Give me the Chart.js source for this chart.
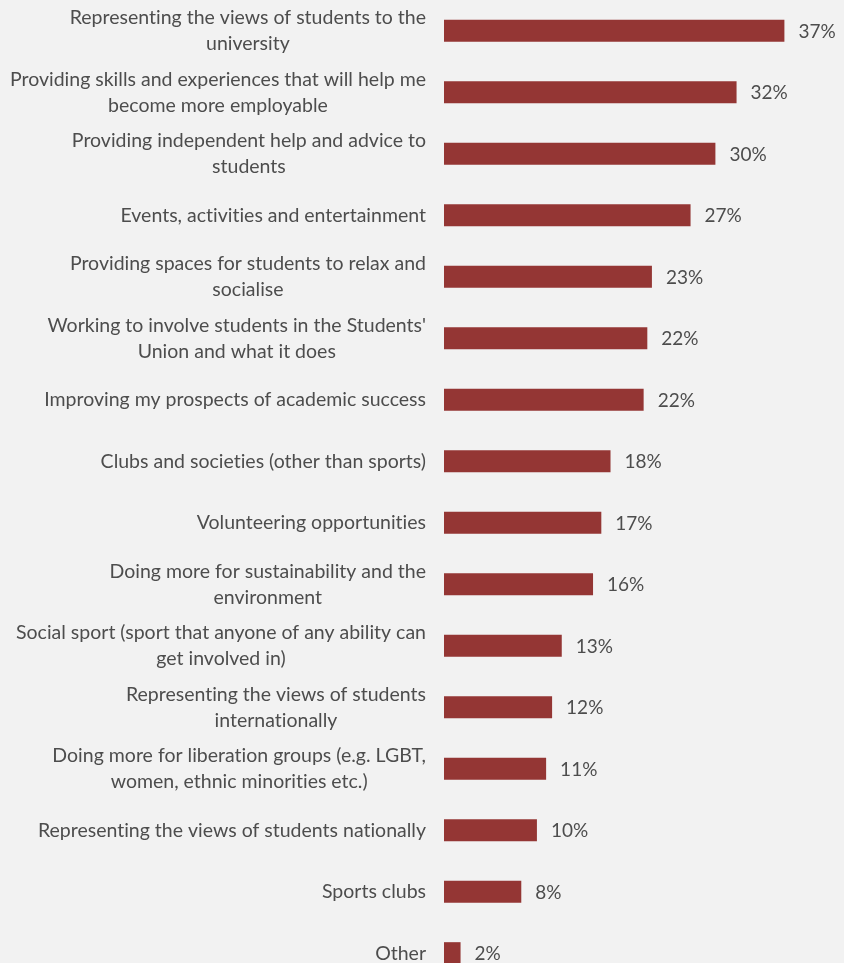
<!DOCTYPE html>
<html>
<head>
<meta charset="utf-8">
<script src="https://cdn.jsdelivr.net/npm/chart.js@4/dist/chart.umd.min.js"></script>
<style>
html,body{margin:0;padding:0;background:#f2f2f2;overflow:hidden;}
#wrap{position:relative;width:844px;height:984px;}
</style>
</head>
<body>
<div id="wrap"><canvas id="c" width="844" height="984"></canvas></div>
<script>
const categories = [
  ["Representing the views of students to the", "university"],
  ["Providing skills and experiences that will help me", "become more employable"],
  ["Providing independent help and advice to", "students"],
  ["Events, activities and entertainment"],
  ["Providing spaces for students to relax and", "socialise"],
  ["Working to involve students in the Students'", "Union and what it does"],
  ["Improving my prospects of academic success"],
  ["Clubs and societies (other than sports)"],
  ["Volunteering opportunities"],
  ["Doing more for sustainability and the", "environment"],
  ["Social sport (sport that anyone of any ability can", "get involved in)"],
  ["Representing the views of students", "internationally"],
  ["Doing more for liberation groups (e.g. LGBT,", "women, ethnic minorities etc.)"],
  ["Representing the views of students nationally"],
  ["Sports clubs"],
  ["Other"]
];
const values = [37.0, 31.8, 29.5, 26.8, 22.6, 22.1, 21.7, 18.1, 17.1, 16.2, 12.8, 11.75, 11.1, 10.1, 8.4, 1.8];
const valueLabels = ["37%","32%","30%","27%","23%","22%","22%","18%","17%","16%","13%","12%","11%","10%","8%","2%"];

const FONT = "Lato";
const TEXT = "#4d4d4d";
const SIZE = 19.5;
const LINE_H = 26;

function noLig(s) { return s.replace(/t(?=[il])/g, "t\u200C").replace(/f(?=[fil])/g, "f\u200C"); }

const labelsPlugin = {
  id: 'customLabels',
  afterDatasetsDraw(chart) {
    const ctx = chart.ctx;
    const yScale = chart.scales.y;
    const meta = chart.getDatasetMeta(0);
    ctx.save();
    ctx.font = SIZE + "px '" + FONT + "'";
    ctx.fillStyle = TEXT;
    ctx.textBaseline = 'middle';
    // category labels: block right-aligned, lines centered within block
    const right = chart.chartArea.left - 18;
    categories.forEach((lines, i) => {
      const y = yScale.getPixelForTick(i);
      const w = Math.max(...lines.map(l => ctx.measureText(noLig(l)).width));
      const cx = right - w / 2;
      ctx.textAlign = 'center';
      lines.forEach((l, k) => {
        const ly = y + (k - (lines.length - 1) / 2) * LINE_H;
        ctx.fillText(noLig(l), cx, ly);
      });
    });
    // value labels
    ctx.textAlign = 'left';
    ctx.font = "19px '" + FONT + "'";
    meta.data.forEach((bar, i) => {
      ctx.fillText(valueLabels[i], bar.x + 14, bar.y + 1);
    });
    ctx.restore();
  }
};

new Chart(document.getElementById('c'), {
  type: 'bar',
  data: {
    labels: categories,
    datasets: [{
      data: values,
      backgroundColor: '#943634',
      borderWidth: 0,
      barPercentage: 0.36,
      categoryPercentage: 1.0
    }]
  },
  options: {
    indexAxis: 'y',
    responsive: false,
    animation: false,
    layout: { padding: { top: 0, bottom: 0, left: 0, right: 32 } },
    plugins: { legend: { display: false }, tooltip: { enabled: false } },
    scales: {
      x: {
        min: 0, max: 40,
        display: false,
        grid: { display: false }
      },
      y: {
        grid: { display: false },
        border: { display: false },
        ticks: { display: false, autoSkip: false },
        afterFit(scale) {
          scale.width = 444;
          scale.paddingTop = 0;
          scale.paddingBottom = 0;
        }
      }
    }
  },
  plugins: [labelsPlugin]
});
</script>
</body>
</html>
